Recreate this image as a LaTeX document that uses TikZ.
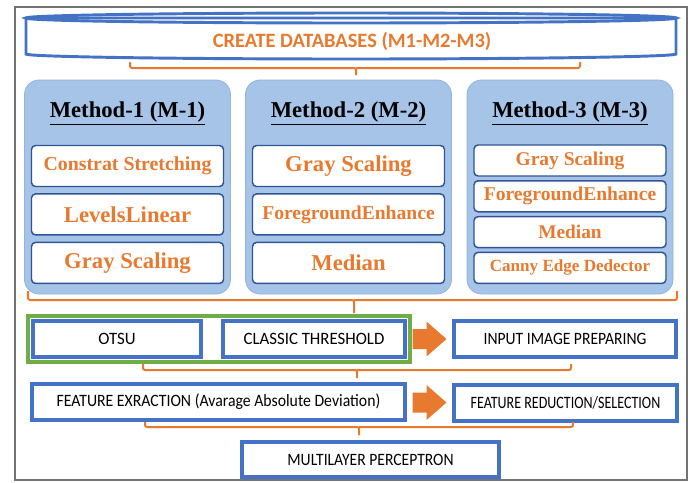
\documentclass[tikz,border=0pt]{standalone}
\usepackage{fontspec}
\usepackage{graphicx}
\setmainfont{Liberation Serif}
\setsansfont{Carlito}
\usetikzlibrary{positioning,fit,calc}

\definecolor{boxblue}{RGB}{68,114,196}
\definecolor{edgeblue}{RGB}{47,85,151}
\definecolor{panelblue}{RGB}{166,195,232}
\definecolor{stepgreen}{RGB}{112,173,71}
\definecolor{textorange}{RGB}{232,122,48}

\tikzset{
  panel/.style={fill=panelblue, draw=panelblue!85!edgeblue, line width=0.6pt,
    rounded corners=11pt, minimum width=154.5pt, minimum height=160.5pt},
  methodtitle/.style={font=\rmfamily\bfseries\fontsize{17}{20}\selectfont, inner sep=0pt},
  techbox/.style={draw=edgeblue, line width=1.1pt, fill=white, rounded corners=3pt,
    minimum width=144pt, text=textorange, inner sep=0pt,
    font=\rmfamily\bfseries\fontsize{17}{20}\selectfont},
  flowbox/.style={draw=boxblue, line width=3pt, fill=white, minimum height=27pt,
    inner sep=0pt, font=\sffamily\fontsize{13}{15}\selectfont},
  bracket/.style={draw=textorange, line width=1.5pt, rounded corners=1.5pt},
}

% orange bracket: left x, right x, top of the ends, bar y, tip x, tip y
\newcommand{\orangebrace}[6]{%
  \draw[bracket] (#1,#3) |- (#5,#4) -- (#5,#6);
  \draw[bracket] (#2,#3) |- (#5,#4);
}
% fat orange arrow centred on a coordinate
\newcommand{\flowarrow}[1]{%
  \fill[textorange] ($(#1)+(-17,-10)$) -- ($(#1)+(-3,-10)$) -- ($(#1)+(-3,-17.5)$)
    -- ($(#1)+(17,0)$) -- ($(#1)+(-3,17.5)$) -- ($(#1)+(-3,10)$) -- ($(#1)+(-17,10)$) -- cycle;
}
% narrow box labels
\newcommand{\squeeze}[2]{\scalebox{#1}[1]{#2}}

\begin{document}
\begin{tikzpicture}[x=0.75pt, y=-0.75pt]
  \useasboundingbox (0,0) rectangle (696,482);

  % frame
  \draw[line width=1.5pt, draw=black!55] (15,7) rectangle (687,480);

  % database drum on top
  \filldraw[draw=boxblue, fill=white, line width=2.2pt] (26,18) -- (26,54)
    arc[start angle=180, end angle=360, x radius=243.75pt, y radius=3.75pt]
    -- (676,18) -- cycle;
  \draw[draw=boxblue, line width=2.2pt] (351,18) ellipse [x radius=243.75pt, y radius=3.75pt];
  \node[text=textorange, font=\sffamily\bfseries\fontsize{15.3}{18}\selectfont] (db) at (352,41)
    {CREATE DATABASES (M1-M2-M3)};

  \orangebrace{130}{580}{62}{68}{356}{75}
  \orangebrace{28}{677}{291}{300}{354}{313}

  % the three methods
  \foreach \i/\cx in {1/127.5, 2/348.5, 3/570} {
    \node[panel] (m\i) at (\cx,187) {};
    \node[methodtitle] (t\i) at (\cx,113) {\underline{Method-\i\ (M-\i)}};
  }

  \node[techbox, minimum height=30.75pt] (m1a) at (127.5,166)
    {\fontsize{14.9}{17}\selectfont Constrat Stretching};
  \node[techbox, minimum height=30.75pt, below=4.5pt of m1a] (m1b) {LevelsLinear};
  \node[techbox, minimum height=30.75pt, below=4.5pt of m1b] (m1c) {Gray Scaling};

  \node[techbox, minimum height=30.75pt] (m2a) at (348.5,166) {Gray Scaling};
  \node[techbox, minimum height=30.75pt, below=4.5pt of m2a] (m2b)
    {\fontsize{14.7}{17}\selectfont ForegroundEnhance};
  \node[techbox, minimum height=30.75pt, below=4.5pt of m2b] (m2c) {Median};

  \node[techbox, minimum height=23.25pt] (m3a) at (570,160.5)
    {\fontsize{14.6}{17}\selectfont Gray Scaling};
  \node[techbox, minimum height=23.25pt, below=2.5pt of m3a] (m3b)
    {\fontsize{14.7}{17}\selectfont ForegroundEnhance};
  \node[techbox, minimum height=23.25pt, below=2.5pt of m3b] (m3c)
    {\fontsize{14.5}{17}\selectfont Median};
  \node[techbox, minimum height=23.25pt, below=2.5pt of m3c] (m3d)
    {\fontsize{12.8}{15}\selectfont Canny Edge Dedector};

  % thresholding
  \node[flowbox, minimum width=126pt] (otsu) at (117,339) {\squeeze{0.97}{OTSU}};
  \node[flowbox, minimum width=136.5pt] (classic) at (314,339) {\squeeze{0.97}{CLASSIC THRESHOLD}};
  \node[draw=stepgreen, line width=3pt, inner sep=2.5pt, fit=(otsu)(classic)] (thresh) {};
  \node[flowbox, minimum width=166.5pt] (input) at (565,339) {\squeeze{0.9}{INPUT IMAGE PREPARING}};
  \coordinate (a1) at ($(classic.east)!0.5!(input.west)$);
  \flowarrow{a1}

  \orangebrace{143}{571}{364}{370}{357}{378}

  % features
  \node[flowbox, minimum width=279.75pt] (extract) at (218.5,402)
    {\squeeze{0.91}{FEATURE EXRACTION (Avarage Absolute Deviation)}};
  \node[flowbox, minimum width=167.25pt] (reduce) at (565.5,403)
    {\squeeze{0.81}{FEATURE REDUCTION/SELECTION}};
  \coordinate (a2) at ($(extract.east)!0.5!(reduce.west)$);
  \flowarrow{a2}

  \orangebrace{145}{573}{422}{427}{359}{435}

  \node[flowbox, minimum width=192.75pt, minimum height=26.25pt] (mlp) at (370.5,459.5)
    {\squeeze{0.9}{MULTILAYER PERCEPTRON}};
\end{tikzpicture}
\end{document}
